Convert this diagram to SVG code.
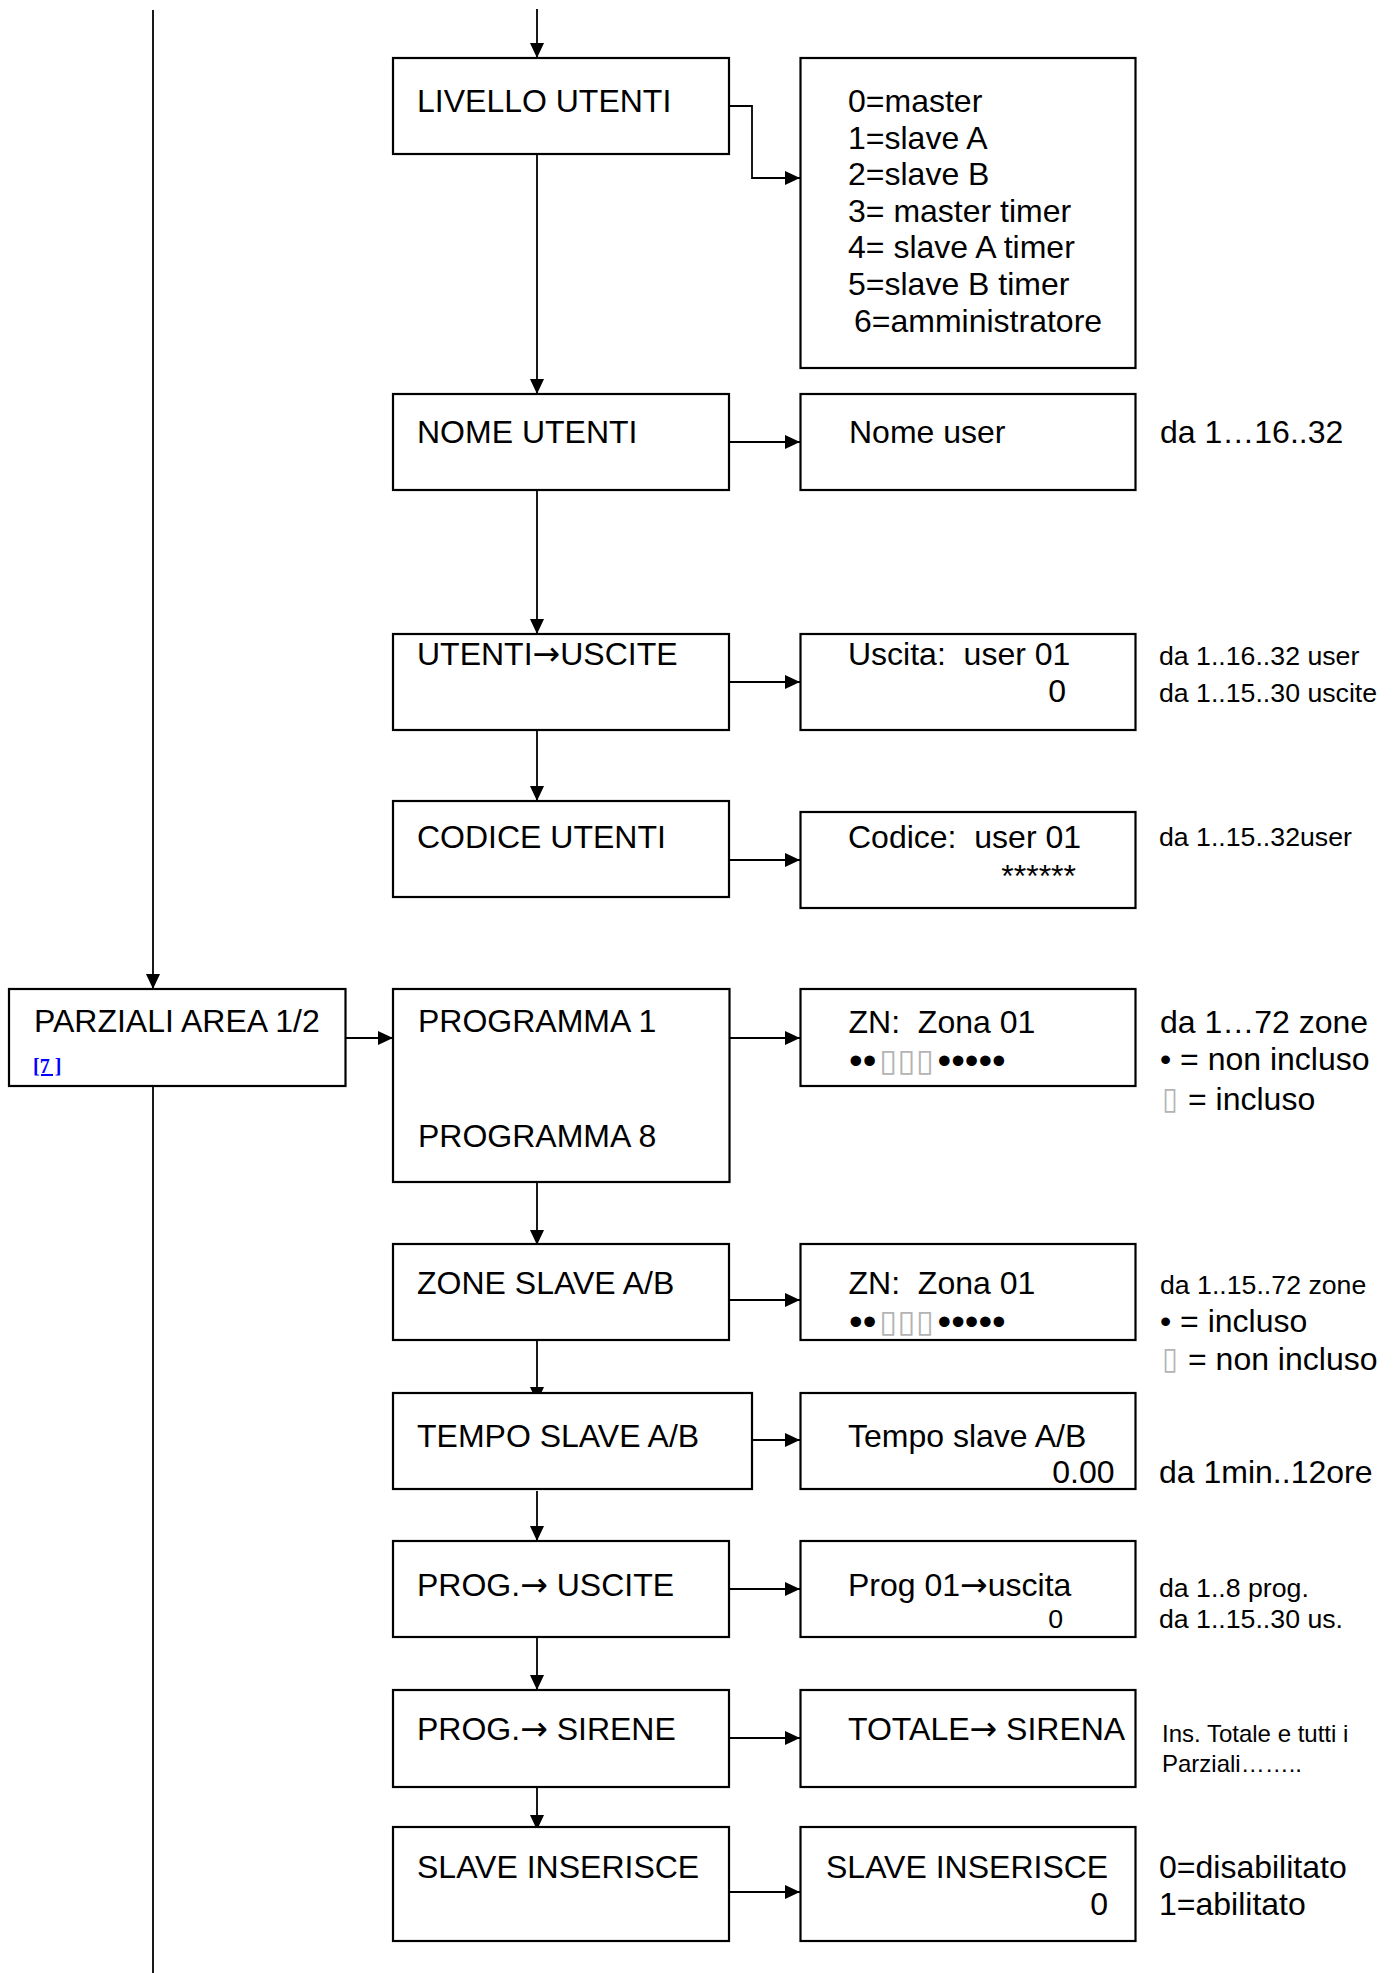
<svg xmlns="http://www.w3.org/2000/svg" width="1396" height="1973" viewBox="0 0 1396 1973">
<style>
  text { font-family: "Liberation Sans", Arial, sans-serif; fill: #000; white-space: pre; }
  .t { font-size: 32px; }
  .s { font-size: 26.7px; }
  .xs { font-size: 24px; }
  .end { text-anchor: end; }
  .ar { font-family: "DejaVu Sans", sans-serif; font-size: 33px; }
  .dot { font-size: 39px; }
  .tofu { font-family: "DejaVu Sans", sans-serif; font-size: 31px; fill: #b4b4b4; }
  .link { font-family: "Liberation Serif", "Times New Roman", serif; font-size: 20px; font-weight: bold; fill: #0000ff; text-decoration: underline; }
  .box { fill: #fff; stroke: #000; stroke-width: 2.2; }
  .ln { fill: none; stroke: #000; stroke-width: 1.8; }
  .arr { marker-end: url(#ah); }
  .dotted { fill: none; stroke: #000; stroke-width: 1.4; stroke-dasharray: 2 2; }
</style>
<defs>
  <marker id="ah" markerUnits="userSpaceOnUse" markerWidth="16" markerHeight="14" refX="15" refY="7" orient="auto">
    <path d="M0,0 L15,7 L0,14 Z" fill="#000"/>
  </marker>
</defs>
<rect width="1396" height="1973" fill="#fff"/>

<g id="connectors">
  <line class="ln arr" x1="537" y1="9" x2="537" y2="58"/>
  <polyline class="ln arr" points="729,106 752,106 752,178 800,178"/>
  <line class="ln arr" x1="537" y1="154" x2="537" y2="394"/>
  <line class="ln arr" x1="729" y1="442" x2="800" y2="442"/>
  <line class="ln arr" x1="537" y1="490" x2="537" y2="634"/>
  <line class="ln arr" x1="729" y1="682" x2="800" y2="682"/>
  <line class="ln arr" x1="537" y1="728" x2="537" y2="801"/>
  <line class="ln arr" x1="729" y1="860" x2="800" y2="860"/>
  <line class="ln arr" x1="153" y1="10" x2="153" y2="989"/>
  <line class="ln arr" x1="345" y1="1038" x2="393" y2="1038"/>
  <line class="ln arr" x1="729" y1="1038" x2="800" y2="1038"/>
  <line class="dotted" x1="537" y1="1060" x2="537" y2="1107"/>
  <line class="ln arr" x1="537" y1="1181" x2="537" y2="1245"/>
  <line class="ln arr" x1="729" y1="1300" x2="800" y2="1300"/>
  <line class="ln arr" x1="537" y1="1338" x2="537" y2="1402"/>
  <line class="ln arr" x1="752" y1="1440" x2="800" y2="1440"/>
  <line class="ln arr" x1="537" y1="1491" x2="537" y2="1541"/>
  <line class="ln arr" x1="729" y1="1589" x2="800" y2="1589"/>
  <line class="ln arr" x1="537" y1="1637" x2="537" y2="1690"/>
  <line class="ln arr" x1="729" y1="1738" x2="800" y2="1738"/>
  <line class="ln arr" x1="537" y1="1779" x2="537" y2="1830"/>
  <line class="ln arr" x1="729" y1="1892" x2="800" y2="1892"/>
  <line class="ln" x1="153" y1="1086" x2="153" y2="1973"/>
</g>

<g id="livello">
  <rect class="box" x="393" y="58" width="336" height="96"/>
  <text class="t" x="417" y="112">LIVELLO UTENTI</text>
</g>
<g id="livello-values">
  <rect class="box" x="800.5" y="58" width="335" height="310"/>
  <text class="t" x="848" y="112">0=master</text>
  <text class="t" x="848" y="148.5">1=slave A</text>
  <text class="t" x="848" y="185">2=slave B</text>
  <text class="t" x="848" y="221.5">3= master timer</text>
  <text class="t" x="848" y="258">4= slave A timer</text>
  <text class="t" x="848" y="295">5=slave B timer</text>
  <text class="t" x="854" y="331.5">6=amministratore</text>
</g>

<g id="nome">
  <rect class="box" x="393" y="394" width="336" height="96"/>
  <text class="t" x="417" y="443">NOME UTENTI</text>
</g>
<g id="nome-user">
  <rect class="box" x="800.5" y="394" width="335" height="96"/>
  <text class="t" x="849" y="443">Nome user</text>
  <text class="t" x="1160" y="443">da 1…16..32</text>
</g>

<g id="utenti-uscite">
  <rect class="box" x="393" y="634" width="336" height="96"/>
  <text class="t" x="417" y="665">UTENTI<tspan class="ar">→</tspan>USCITE</text>
</g>
<g id="uscita">
  <rect class="box" x="800.5" y="634" width="335" height="96"/>
  <text class="t" x="848" y="665">Uscita:  user 01</text>
  <text class="t end" x="1066" y="702">0</text>
  <text class="s" x="1159" y="665">da 1..16..32 user</text>
  <text class="s" x="1159" y="702">da 1..15..30 uscite</text>
</g>

<g id="codice">
  <rect class="box" x="393" y="801" width="336" height="96"/>
  <text class="t" x="417" y="848">CODICE UTENTI</text>
</g>
<g id="codice-val">
  <rect class="box" x="800.5" y="812" width="335" height="96"/>
  <text class="t" x="848" y="848">Codice:  user 01</text>
  <text class="t end" x="1076" y="887">******</text>
  <text class="s" x="1159" y="846">da 1..15..32user</text>
</g>

<g id="parziali">
  <rect class="box" x="9" y="989" width="336.5" height="97"/>
  <text class="t" x="34" y="1032">PARZIALI AREA 1/2</text>
  <text class="link" x="33" y="1073">[7 ]</text>
</g>

<g id="programma">
  <rect class="box" x="393" y="989" width="336.5" height="193"/>
  <text class="t" x="418" y="1032">PROGRAMMA 1</text>
  <text class="t" x="418" y="1147">PROGRAMMA 8</text>
</g>
<g id="zn1">
  <rect class="box" x="800.5" y="989" width="335" height="97"/>
  <text class="t" x="848.5" y="1033">ZN:  Zona 01</text>
  <text class="dot" x="849" y="1074">••</text>
  <text class="tofu" x="879" y="1071" textLength="55" lengthAdjust="spacingAndGlyphs">▯▯▯</text>
  <text class="dot" x="937.5" y="1074">•••••</text>
  <text class="t" x="1160" y="1033">da 1…72 zone</text>
  <text class="t" x="1160" y="1070">• = non incluso</text>
  <text class="tofu" x="1162" y="1109" textLength="16" lengthAdjust="spacingAndGlyphs">▯</text>
  <text class="t" x="1188" y="1110">= incluso</text>
</g>

<g id="zone-slave">
  <rect class="box" x="393" y="1244" width="336" height="96"/>
  <text class="t" x="417" y="1294">ZONE SLAVE A/B</text>
</g>
<g id="zn2">
  <rect class="box" x="800.5" y="1244" width="335" height="96"/>
  <text class="t" x="848.5" y="1294">ZN:  Zona 01</text>
  <text class="dot" x="849" y="1335">••</text>
  <text class="tofu" x="879" y="1332" textLength="55" lengthAdjust="spacingAndGlyphs">▯▯▯</text>
  <text class="dot" x="937.5" y="1335">•••••</text>
  <text class="s" x="1160" y="1294">da 1..15..72 zone</text>
  <text class="t" x="1160" y="1331.5">• = incluso</text>
  <text class="tofu" x="1162" y="1369" textLength="16" lengthAdjust="spacingAndGlyphs">▯</text>
  <text class="t" x="1188" y="1370">= non incluso</text>
</g>

<g id="tempo-slave">
  <rect class="box" x="393" y="1393" width="359" height="96"/>
  <text class="t" x="417" y="1447">TEMPO SLAVE A/B</text>
</g>
<g id="tempo-val">
  <rect class="box" x="800.5" y="1393" width="335" height="96"/>
  <text class="t" x="848" y="1447">Tempo slave A/B</text>
  <text class="t end" x="1114.5" y="1483">0.00</text>
  <text class="t" x="1159" y="1483">da 1min..12ore</text>
</g>

<g id="prog-uscite">
  <rect class="box" x="393" y="1541" width="336" height="96"/>
  <text class="t" x="417" y="1596">PROG.<tspan class="ar">→</tspan> USCITE</text>
</g>
<g id="prog-uscita-val">
  <rect class="box" x="800.5" y="1541" width="335" height="96"/>
  <text class="t" x="848" y="1596">Prog 01<tspan class="ar">→</tspan>uscita</text>
  <text class="s end" x="1063" y="1628">0</text>
  <text class="s" x="1159" y="1597">da 1..8 prog.</text>
  <text class="s" x="1159" y="1628">da 1..15..30 us.</text>
</g>

<g id="prog-sirene">
  <rect class="box" x="393" y="1690" width="336" height="97"/>
  <text class="t" x="417" y="1740">PROG.<tspan class="ar">→</tspan> SIRENE</text>
</g>
<g id="totale-sirena">
  <rect class="box" x="800.5" y="1690" width="335" height="97"/>
  <text class="t" x="848" y="1740">TOTALE<tspan class="ar">→</tspan> SIRENA</text>
  <text class="xs" x="1162" y="1742">Ins. Totale e tutti i</text>
  <text class="xs" x="1162" y="1772">Parziali……..</text>
</g>

<g id="slave-inserisce">
  <rect class="box" x="393" y="1827" width="336" height="114"/>
  <text class="t" x="417" y="1878">SLAVE INSERISCE</text>
</g>
<g id="slave-inserisce-val">
  <rect class="box" x="800.5" y="1827" width="335" height="114"/>
  <text class="t" x="826" y="1878">SLAVE INSERISCE</text>
  <text class="t end" x="1108" y="1915">0</text>
  <text class="t" x="1159" y="1878">0=disabilitato</text>
  <text class="t" x="1159" y="1915">1=abilitato</text>
</g>
</svg>
